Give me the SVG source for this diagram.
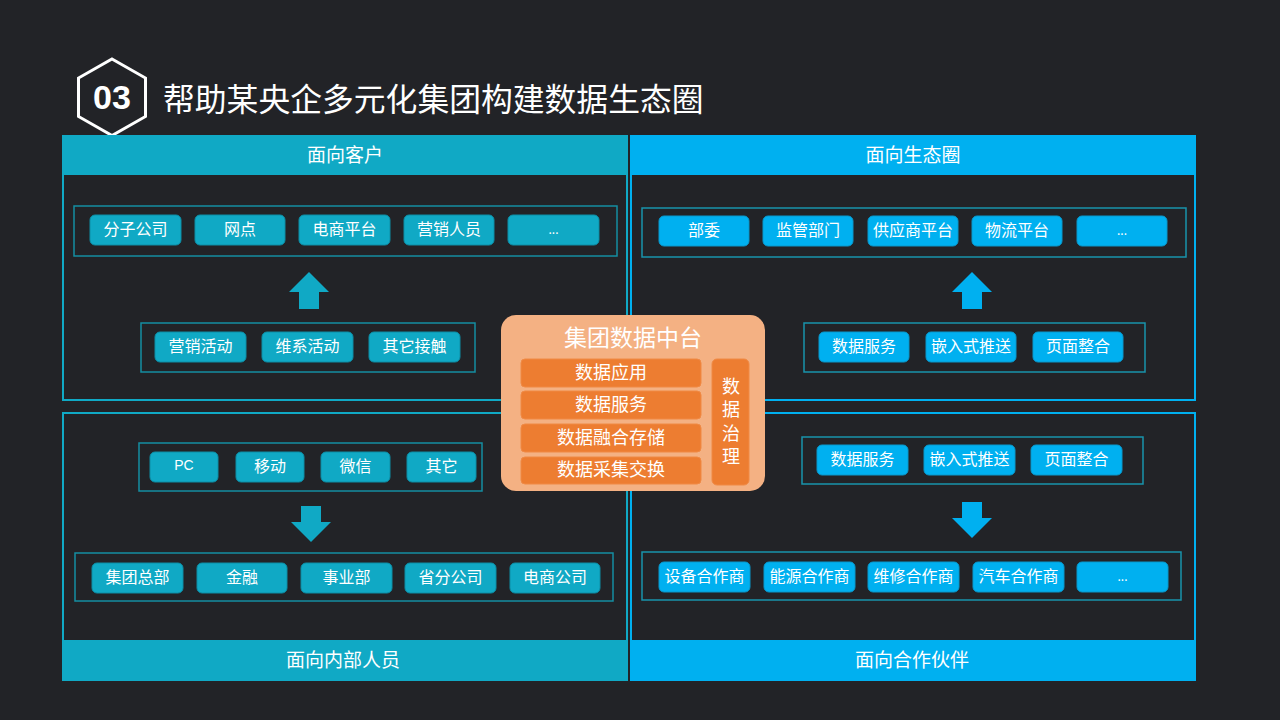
<svg xmlns="http://www.w3.org/2000/svg" width="1280" height="720" viewBox="0 0 1280 720">
<style>
text{font-family:"Noto Sans CJK SC","Liberation Sans",sans-serif;fill:#ffffff;text-anchor:middle;dominant-baseline:central;transform:translateY(-2px)}
.t{fill:#10a9c5;stroke:#0c8ea6;stroke-width:1}
.b{fill:#00b0f0;stroke:#0898cc;stroke-width:1}
.grpT{fill:none;stroke:#158ea2;stroke-width:1.5}
.grpB{fill:none;stroke:#1994ac;stroke-width:1.5}
.it{font-size:16px}
.hd{font-size:19px}
.ob{fill:#ed7d31;stroke:#f08a45;stroke-width:1}
.ot{font-size:18px}
</style>
<rect width="1280" height="720" fill="#222327"/>

<g id="title">
<polygon points="112,59 145.5,78 145.5,116.5 112,135.5 78.5,116.5 78.5,78" fill="none" stroke="#ffffff" stroke-width="3"/>
<text x="112" y="99" style="font-family:'Liberation Sans',Arial,sans-serif;font-weight:bold;font-size:34px">03</text>
<text x="163" y="99" style="font-size:31.8px;text-anchor:start">帮助某央企多元化集团构建数据生态圈</text>
</g>

<g id="panel-customers">
<rect x="63" y="136" width="564" height="264" fill="none" stroke="#10a9c5" stroke-width="2"/>
<rect x="62" y="136" width="566" height="39" fill="#10a9c5"/>
<text class="hd" x="345" y="155">面向客户</text>
<rect class="grpT" x="74" y="206" width="543" height="50"/>
<rect class="t" x="90" y="215" width="91" height="30" rx="5"/><text class="it" x="135.5" y="230">分子公司</text>
<rect class="t" x="195" y="215" width="90" height="30" rx="5"/><text class="it" x="240" y="230">网点</text>
<rect class="t" x="299" y="215" width="91" height="30" rx="5"/><text class="it" x="344.5" y="230">电商平台</text>
<rect class="t" x="404" y="215" width="90" height="30" rx="5"/><text class="it" x="449" y="230">营销人员</text>
<rect class="t" x="508" y="215" width="91" height="30" rx="5"/><text class="it" x="553.5" y="230" style="font-size:12px">...</text>
<rect class="grpT" x="141" y="323" width="334" height="49"/>
<rect class="t" x="155" y="332" width="91" height="30" rx="5"/><text class="it" x="200.5" y="347">营销活动</text>
<rect class="t" x="262" y="332" width="91" height="30" rx="5"/><text class="it" x="307.5" y="347">维系活动</text>
<rect class="t" x="369" y="332" width="91" height="30" rx="5"/><text class="it" x="414.5" y="347">其它接触</text>
</g>

<g id="panel-ecosystem">
<rect x="631" y="136" width="564" height="264" fill="none" stroke="#00b0f0" stroke-width="2"/>
<rect x="630" y="136" width="566" height="39" fill="#00b0f0"/>
<text class="hd" x="913" y="155">面向生态圈</text>
<rect class="grpB" x="642" y="208" width="544" height="49"/>
<rect class="b" x="659" y="216" width="90" height="30" rx="5"/><text class="it" x="704" y="231">部委</text>
<rect class="b" x="763" y="216" width="90" height="30" rx="5"/><text class="it" x="808" y="231">监管部门</text>
<rect class="b" x="868" y="216" width="90" height="30" rx="5"/><text class="it" x="913" y="231">供应商平台</text>
<rect class="b" x="972" y="216" width="90" height="30" rx="5"/><text class="it" x="1017" y="231">物流平台</text>
<rect class="b" x="1077" y="216" width="90" height="30" rx="5"/><text class="it" x="1122" y="231" style="font-size:12px">...</text>
<rect class="grpB" x="804" y="323" width="341" height="49"/>
<rect class="b" x="819" y="332" width="90" height="30" rx="5"/><text class="it" x="864" y="347">数据服务</text>
<rect class="b" x="926" y="332" width="90" height="30" rx="5"/><text class="it" x="971" y="347">嵌入式推送</text>
<rect class="b" x="1033" y="332" width="90" height="30" rx="5"/><text class="it" x="1078" y="347">页面整合</text>
</g>

<g id="panel-internal">
<rect x="63" y="413" width="564" height="267" fill="none" stroke="#10a9c5" stroke-width="2"/>
<rect x="62" y="640" width="566" height="40" fill="#10a9c5"/>
<text class="hd" x="343" y="660">面向内部人员</text>
<rect class="grpT" x="139" y="443" width="343" height="48"/>
<rect class="t" x="150" y="452" width="68" height="30" rx="5"/><text class="it" x="184" y="467" style="font-family:'Liberation Sans',sans-serif;font-size:14px">PC</text>
<rect class="t" x="236" y="452" width="68" height="30" rx="5"/><text class="it" x="270" y="467">移动</text>
<rect class="t" x="321" y="452" width="69" height="30" rx="5"/><text class="it" x="355.5" y="467">微信</text>
<rect class="t" x="407" y="452" width="69" height="30" rx="5"/><text class="it" x="441.5" y="467">其它</text>
<rect class="grpT" x="75" y="553" width="538" height="48"/>
<rect class="t" x="92" y="563" width="91" height="30" rx="5"/><text class="it" x="137.5" y="578">集团总部</text>
<rect class="t" x="197" y="563" width="90" height="30" rx="5"/><text class="it" x="242" y="578">金融</text>
<rect class="t" x="301" y="563" width="91" height="30" rx="5"/><text class="it" x="346.5" y="578">事业部</text>
<rect class="t" x="405" y="563" width="91" height="30" rx="5"/><text class="it" x="450.5" y="578">省分公司</text>
<rect class="t" x="510" y="563" width="90" height="30" rx="5"/><text class="it" x="555" y="578">电商公司</text>
</g>

<g id="panel-partners">
<rect x="631" y="413" width="564" height="267" fill="none" stroke="#00b0f0" stroke-width="2"/>
<rect x="630" y="640" width="566" height="40" fill="#00b0f0"/>
<text class="hd" x="912" y="660">面向合作伙伴</text>
<rect class="grpB" x="802" y="437" width="341" height="47"/>
<rect class="b" x="817" y="445" width="91" height="30" rx="5"/><text class="it" x="862.5" y="460">数据服务</text>
<rect class="b" x="924" y="445" width="91" height="30" rx="5"/><text class="it" x="969.5" y="460">嵌入式推送</text>
<rect class="b" x="1031" y="445" width="91" height="30" rx="5"/><text class="it" x="1076.5" y="460">页面整合</text>
<rect class="grpB" x="642" y="552" width="539" height="48"/>
<rect class="b" x="659" y="562" width="91" height="30" rx="5"/><text class="it" x="704.5" y="577">设备合作商</text>
<rect class="b" x="764" y="562" width="91" height="30" rx="5"/><text class="it" x="809.5" y="577">能源合作商</text>
<rect class="b" x="868" y="562" width="91" height="30" rx="5"/><text class="it" x="913.5" y="577">维修合作商</text>
<rect class="b" x="973" y="562" width="91" height="30" rx="5"/><text class="it" x="1018.5" y="577">汽车合作商</text>
<rect class="b" x="1077" y="562" width="91" height="30" rx="5"/><text class="it" x="1122.5" y="577" style="font-size:12px">...</text>
</g>

<g id="connectors">
<polygon points="309,272 329,292 319,292 319,309 299,309 299,292 289,292" fill="#10a9c5"/>
<polygon points="972,272 992,292 982,292 982,309 962,309 962,292 952,292" fill="#00b0f0"/>
<polygon points="301,506 321,506 321,522 331,522 311,542 291,522 301,522" fill="#10a9c5"/>
<polygon points="962,502 982,502 982,518 992,518 972,538 952,518 962,518" fill="#00b0f0"/>
</g>

<g id="center-platform">
<rect x="501" y="315" width="264" height="176" rx="15" fill="#f4b183"/>
<text x="633" y="338" style="font-size:23px">集团数据中台</text>
<rect class="ob" x="521" y="359" width="180" height="28" rx="4"/><text class="ot" x="611" y="373">数据应用</text>
<rect class="ob" x="521" y="391" width="180" height="28" rx="4"/><text class="ot" x="611" y="405">数据服务</text>
<rect class="ob" x="521" y="424" width="180" height="28" rx="4"/><text class="ot" x="611" y="438">数据融合存储</text>
<rect class="ob" x="521" y="457" width="180" height="27" rx="4"/><text class="ot" x="611" y="470">数据采集交换</text>
<rect class="ob" x="712" y="359" width="37" height="126" rx="5"/>
<text class="ot" x="731" y="424" style="writing-mode:vertical-rl;text-orientation:upright;letter-spacing:5.5px;dominant-baseline:auto;transform:translate(0,0)">数据治理</text>
</g>
</svg>
